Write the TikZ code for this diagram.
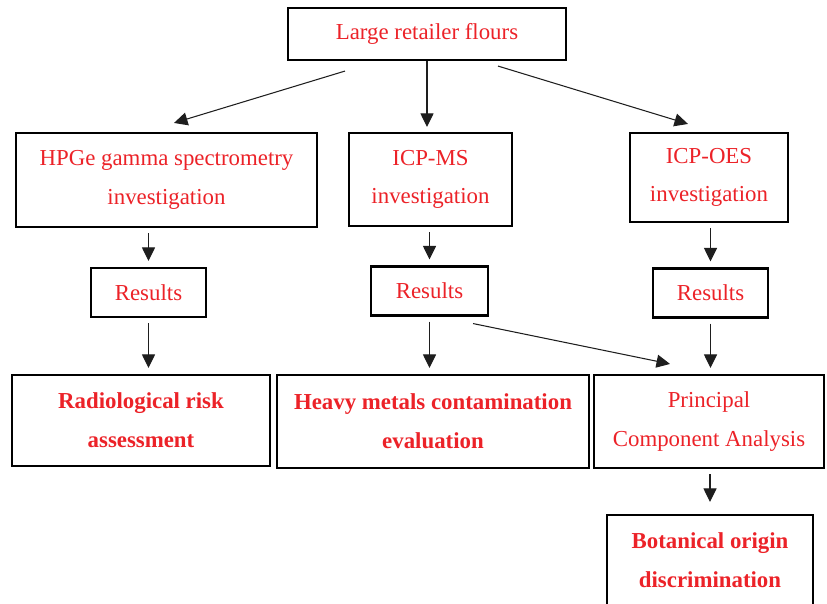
\documentclass[tikz,border=0pt]{standalone}
\usepackage{fontspec}
\setmainfont{Liberation Serif}
\usepackage{tikz}
\usetikzlibrary{positioning,arrows.meta,calc}
\usepackage{xcolor}
\definecolor{flourred}{RGB}{236,34,40}
\definecolor{arrowgray}{RGB}{30,30,30}

\begin{document}
\begin{tikzpicture}[
  >={Triangle[length=2.7mm,width=2.6mm]},
  box/.style={draw=black,line width=1.2pt,fill=white,align=center,text=flourred,inner sep=0pt,font=\fontsize{13}{22}\selectfont},
  res/.style={box,minimum width=2.3cm,minimum height=0.98cm},
  goal/.style={box,font=\fontsize{13}{22}\selectfont\bfseries},
  ar/.style={->,line width=0.6pt,arrowgray},
  gap/.style={shorten <=0.1cm,shorten >=0.12cm}
]
\useasboundingbox (0,0) rectangle (16.54,-12.06);

% TOP: sample set
\node[box,minimum width=5.56cm,minimum height=1.04cm] (flours) at (8.54,-0.68) {Large retailer flours};

% SECOND ROW: three techniques
\node[box,minimum width=6.02cm,minimum height=1.88cm] (hpge) at (3.33,-3.60) {HPGe gamma spectrometry \\ investigation};
\node[box,minimum width=3.26cm,minimum height=1.86cm] (icpms) at (8.61,-3.59) {ICP-MS \\ investigation};
\node[box,minimum width=3.16cm,minimum height=1.78cm] (icpoes) at (14.18,-3.55) {ICP-OES \\ investigation};

\draw[ar] ([xshift=-1.64cm,yshift=-0.2cm]flours.south) -- ([xshift=0.15cm,yshift=0.18cm]hpge.north);
\draw[ar,shorten >=0.1cm] (flours.south) -- (flours.south |- icpms.north);
\draw[ar] ([xshift=1.42cm,yshift=-0.1cm]flours.south) -- ([xshift=-0.42cm,yshift=0.16cm]icpoes.north);

% THIRD ROW: results
\node[res] (res1) at (2.97,-5.85) {Results};
\node[res,minimum width=2.34cm] (res2) at (8.59,-5.82) {Results};
\node[res] (res3) at (14.21,-5.86) {Results};

\draw[ar,gap] (res1.north |- hpge.south) -- (res1.north);
\draw[ar,gap] (res2.north |- icpms.south) -- (res2.north);
\draw[ar,gap] (res3.north |- icpoes.south) -- (res3.north);

% BOTTOM ROW: outcomes
\node[goal,minimum width=5.16cm,minimum height=1.82cm] (risk) at (2.82,-8.41) {Radiological risk \\ assessment};
\node[goal,minimum width=6.24cm,minimum height=1.86cm] (metals) at (8.66,-8.43) {Heavy metals contamination \\ evaluation};
\node[box,minimum width=4.60cm,minimum height=1.86cm] (pca) at (14.18,-8.43) {Principal \\ Component Analysis};

\draw[ar,gap] (res1.south) -- (res1.south |- risk.north);
\draw[ar,gap] (res2.south) -- (res2.south |- metals.north);
\draw[ar,gap] (res3.south) -- (res3.south |- pca.north);
\draw[ar] ([xshift=-0.32cm,yshift=-0.14cm]res2.south east) -- ([xshift=-0.78cm,yshift=0.2cm]pca.north);

% LAST: discrimination
\node[goal,minimum width=4.12cm,minimum height=1.80cm] (origin) at (14.20,-11.20) {Botanical origin \\ discrimination};

\draw[ar,gap,shorten >=0.24cm] (pca.south -| origin.north) -- (origin.north);

\end{tikzpicture}
\end{document}
